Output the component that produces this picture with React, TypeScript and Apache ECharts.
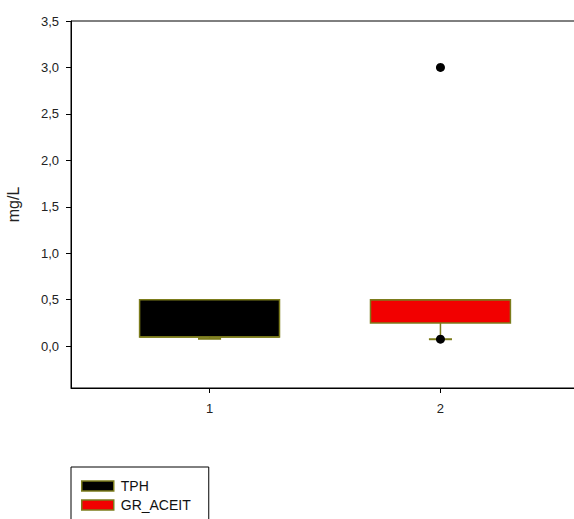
import React, { useEffect, useRef } from "react";
import * as echarts from "echarts";

const groupNames = ["TPH", "GR_ACEIT"];
const positions = [1, 2];
const whiskerLow = [0.08, 0.075];
const q1 = [0.1, 0.25];
const median = [0.1, 0.5];
const q3 = [0.5, 0.5];
const whiskerHigh = [0.5, 0.5];
const boxColors = ["#000000", "#f20000"];
const outlierX = [2, 2];
const outlierY = [3.0, 0.075];
const yTicks = [0, 0.5, 1, 1.5, 2, 2.5, 3, 3.5];
const xTicks = [1, 2];

const EDGE = "#7c7c1c";
const FONT = "Liberation Sans";
const BOX_WIDTH = 0.606;
const CAP_WIDTH = 0.1;
const CHART_H = 580;

export default function App() {
  const ref = useRef<HTMLDivElement>(null);
  useEffect(() => {
    if (!ref.current) return;
    const chart = echarts.init(ref.current, null, { renderer: "svg" });

    const renderBox = (params: any, api: any) => {
      const x = api.value(0);
      const lo = api.value(1);
      const b1 = api.value(2);
      const md = api.value(3);
      const b3 = api.value(4);
      const hi = api.value(5);
      const half = api.size([BOX_WIDTH, 0])[0] / 2;
      const capHalf = api.size([CAP_WIDTH, 0])[0] / 2;
      const pLo = api.coord([x, lo]);
      const p1 = api.coord([x, b1]);
      const pm = api.coord([x, md]);
      const p3 = api.coord([x, b3]);
      const pHi = api.coord([x, hi]);
      const fill = boxColors[params.seriesIndex];
      const lineStyle = { stroke: EDGE, lineWidth: 1.5 };
      const capStyle = { stroke: EDGE, lineWidth: 2 };
      const children: any[] = [];
      if (lo < b1) {
        children.push({ type: "line", shape: { x1: pLo[0], y1: pLo[1], x2: p1[0], y2: p1[1] }, style: lineStyle });
        children.push({ type: "line", shape: { x1: pLo[0] - capHalf, y1: pLo[1], x2: pLo[0] + capHalf, y2: pLo[1] }, style: capStyle });
      }
      if (hi > b3) {
        children.push({ type: "line", shape: { x1: p3[0], y1: p3[1], x2: pHi[0], y2: pHi[1] }, style: lineStyle });
        children.push({ type: "line", shape: { x1: pHi[0] - capHalf, y1: pHi[1], x2: pHi[0] + capHalf, y2: pHi[1] }, style: capStyle });
      }
      children.push({
        type: "rect",
        shape: { x: p3[0] - half, y: p3[1], width: half * 2, height: p1[1] - p3[1] },
        style: { fill, stroke: EDGE, lineWidth: 1.5 },
      });
      children.push({ type: "line", shape: { x1: pm[0] - half, y1: pm[1], x2: pm[0] + half, y2: pm[1] }, style: lineStyle });
      return { type: "group", children };
    };

    const boxSeries = groupNames.map((name, i) => ({
      type: "custom",
      name,
      renderItem: renderBox,
      itemStyle: { color: boxColors[i], borderColor: EDGE },
      encode: { x: 0, y: [1, 2, 3, 4, 5] },
      data: [[positions[i], whiskerLow[i], q1[i], median[i], q3[i], whiskerHigh[i]]],
      clip: false,
      z: 2,
    }));

    chart.setOption({
      animation: false,
      grid: {
        left: 71,
        top: 21,
        right: 11,
        bottom: CHART_H - 388,
        outerBoundsMode: "none",
        containLabel: false,
        show: true,
        borderColor: "#000",
        borderWidth: 1,
        backgroundColor: "transparent",
      },
      legend: {
        orient: "vertical",
        left: 71,
        top: 467,
        icon: "rect",
        itemWidth: 32,
        itemHeight: 10,
        itemGap: 5,
        padding: [12, 18, 30, 10],
        borderColor: "#000",
        borderWidth: 1,
        textStyle: { fontFamily: FONT, fontSize: 14, color: "#111", padding: [0, 0, 0, 2] },
        data: groupNames.map((name, i) => ({
          name,
          itemStyle: { color: boxColors[i], borderColor: EDGE, borderWidth: 1.5 },
        })),
      },
      xAxis: {
        type: "value",
        min: 0.4,
        max: 2.6,
        splitLine: { show: false },
        axisLine: { show: true, onZero: false, lineStyle: { color: "#000", width: 1 } },
        axisTick: { show: true, length: 5, customValues: xTicks, lineStyle: { color: "#000" } },
        axisLabel: {
          customValues: xTicks,
          margin: 14,
          fontFamily: FONT,
          fontSize: 13,
          color: "#222",
        },
      },
      yAxis: {
        type: "value",
        min: -0.45,
        max: 3.5,
        name: "mg/L",
        nameLocation: "middle",
        nameGap: 50,
        nameTextStyle: { fontFamily: FONT, fontSize: 16, color: "#222" },
        splitLine: { show: false },
        axisLine: { show: true, onZero: false, lineStyle: { color: "#000", width: 1 } },
        axisTick: { show: true, length: 5, customValues: yTicks, lineStyle: { color: "#000" } },
        axisLabel: {
          customValues: yTicks,
          margin: 12,
          fontFamily: FONT,
          fontSize: 13,
          color: "#222",
          formatter: (v: number) => v.toFixed(1).replace(".", ","),
        },
      },
      series: [
        ...boxSeries,
        {
          type: "scatter",
          name: "outliers",
          symbol: "circle",
          symbolSize: 9,
          itemStyle: { color: "#000", opacity: 1 },
          data: outlierX.map((x, i) => [x, outlierY[i]]),
          z: 3,
        },
      ],
    });
    return () => chart.dispose();
  }, []);

  return (
    <div style={{ position: "fixed", left: 0, top: 0, width: 574, height: 519, overflow: "hidden", background: "#fff" }}>
      <div ref={ref} style={{ width: 590, height: CHART_H }} />
    </div>
  );
}
